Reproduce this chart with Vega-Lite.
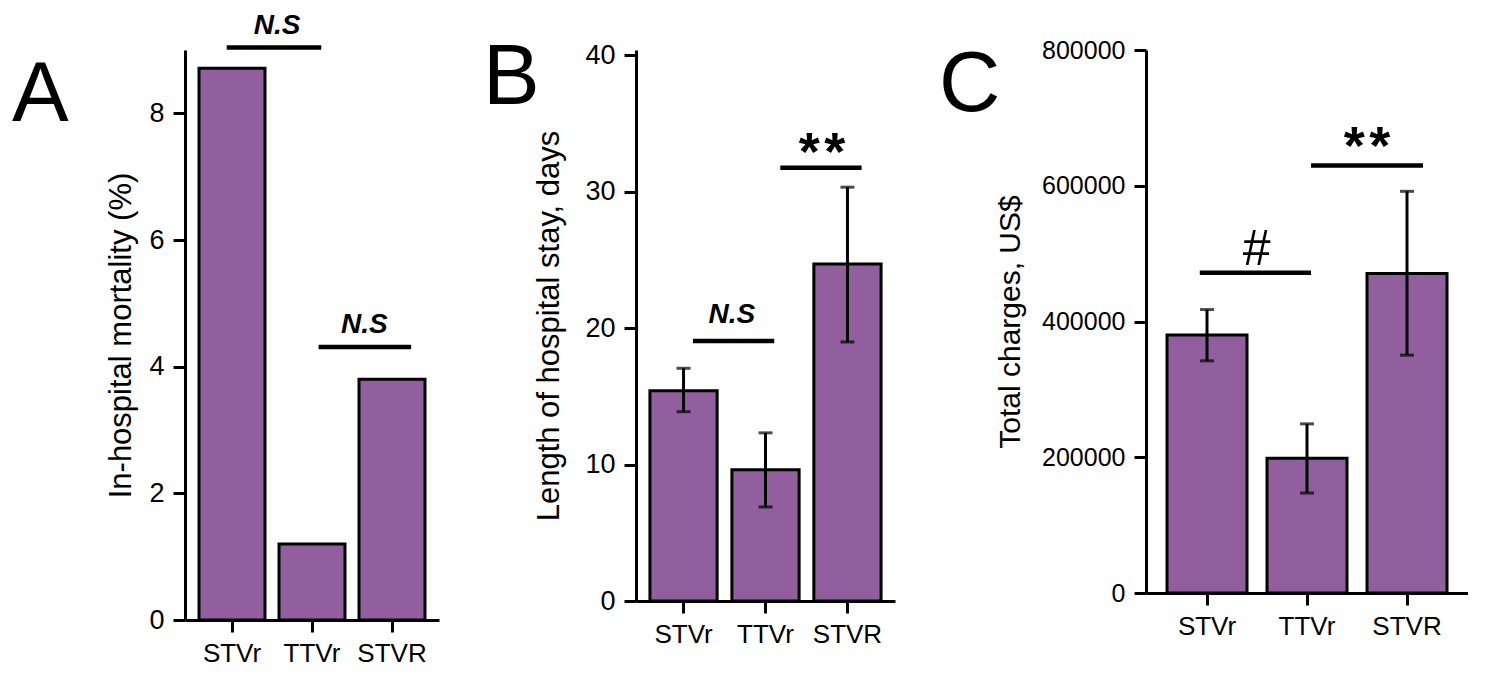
{
  "$schema": "https://vega.github.io/schema/vega-lite/v6.json",
  "background": "white",
  "padding": {"left": 12, "top": 12, "right": 0, "bottom": 0},
  "spacing": 44,
  "bounds": "full",
  "config": {
    "font": "Liberation Sans",
    "view": {"stroke": null},
    "axis": {
      "domainColor": "black", "domainWidth": 3,
      "tickColor": "black", "tickWidth": 3, "tickSize": 12,
      "labelColor": "black", "labelFontSize": 27, "labelPadding": 9,
      "titleColor": "black", "titleFontSize": 31, "titleFontWeight": "normal", "titlePadding": 11,
      "grid": false
    },
    "axisX": {"labelFontSize": 26, "labelAngle": 0, "labelPadding": 8},
    "title": {"fontSize": 85, "fontWeight": "normal", "color": "black", "anchor": "start", "frame": "group", "orient": "top", "baseline": "alphabetic", "offset": 0}
  },
  "hconcat": [
    {
      "width": 254, "height": 570,
      "title": {"text": "A", "dx": -173, "dy": 131},
      "layer": [
        {
          "data": {"values": [
            {"group": "STVr", "value": 8.71},
            {"group": "TTVr", "value": 1.2},
            {"group": "STVR", "value": 3.8}
          ]},
          "mark": {"type": "bar", "fill": "#915f9e", "stroke": "black", "strokeWidth": 3},
          "encoding": {
            "x": {"field": "group", "type": "nominal", "title": null, "scale": {"domain": ["STVr", "TTVr", "STVR"], "paddingInner": 0.175, "paddingOuter": 0.175}},
            "y": {"field": "value", "type": "quantitative", "title": "In-hospital mortality (%)", "scale": {"domain": [0, 9], "nice": false}, "axis": {"title": "In-hospital mortality (%)", "values": [0, 2, 4, 6, 8], "format": "d"}}
          }
        },
        {
          "data": {"values": [{"from": "STVr", "to": "TTVr", "level": 9.04, "label": "N.S"}]},
          "layer": [
            {"mark": {"type": "rule", "color": "black", "strokeWidth": 4.5},
             "encoding": {"x": {"field": "from", "type": "nominal", "title": null, "bandPosition": 0.42}, "x2": {"field": "to", "bandPosition": 0.64}, "y": {"field": "level", "type": "quantitative", "title": "In-hospital mortality (%)"}}},
            {"mark": {"type": "text", "fontSize": 28, "fontWeight": "bold", "fontStyle": "italic", "baseline": "alphabetic", "align": "center", "dy": -13, "color": "black"},
             "encoding": {"x": {"field": "to", "type": "nominal", "title": null, "bandPosition": -0.03}, "y": {"field": "level", "type": "quantitative", "title": "In-hospital mortality (%)"}, "text": {"field": "label"}}}
          ]
        },
        {
          "data": {"values": [{"from": "TTVr", "to": "STVR", "level": 4.31, "label": "N.S"}]},
          "layer": [
            {"mark": {"type": "rule", "color": "black", "strokeWidth": 4.5},
             "encoding": {"x": {"field": "from", "type": "nominal", "title": null, "bandPosition": 0.6}, "x2": {"field": "to", "bandPosition": 0.79}, "y": {"field": "level", "type": "quantitative", "title": "In-hospital mortality (%)"}}},
            {"mark": {"type": "text", "fontSize": 28, "fontWeight": "bold", "fontStyle": "italic", "baseline": "alphabetic", "align": "center", "dy": -14, "color": "black"},
             "encoding": {"x": {"field": "to", "type": "nominal", "title": null, "bandPosition": 0.08}, "y": {"field": "level", "type": "quantitative", "title": "In-hospital mortality (%)"}, "text": {"field": "label"}}}
          ]
        }
      ]
    },
    {
      "width": 259, "height": 551,
      "title": {"text": "B", "dx": -153, "dy": 85},
      "layer": [
        {
          "data": {"values": [
            {"group": "STVr", "value": 15.4, "lo": 13.87, "hi": 17.05},
            {"group": "TTVr", "value": 9.62, "lo": 6.89, "hi": 12.32},
            {"group": "STVR", "value": 24.7, "lo": 18.98, "hi": 30.32}
          ]},
          "layer": [
            {
              "mark": {"type": "bar", "fill": "#915f9e", "stroke": "black", "strokeWidth": 3},
              "encoding": {
                "x": {"field": "group", "type": "nominal", "title": null, "scale": {"domain": ["STVr", "TTVr", "STVR"], "paddingInner": 0.18, "paddingOuter": 0.17}},
                "y": {"field": "value", "type": "quantitative", "title": "Length of hospital stay, days", "scale": {"domain": [0, 40.37], "nice": false}, "axis": {"title": "Length of hospital stay, days", "values": [0, 10, 20, 30, 40], "titlePadding": 19}}
              }
            },
            {
              "mark": {"type": "rule", "color": "black", "strokeWidth": 3},
              "encoding": {"x": {"field": "group", "type": "nominal", "title": null}, "y": {"field": "lo", "type": "quantitative", "title": "Length of hospital stay, days"}, "y2": {"field": "hi"}}
            },
            {
              "mark": {"type": "tick", "color": "black", "thickness": 3, "size": 14},
              "encoding": {"x": {"field": "group", "type": "nominal", "title": null}, "y": {"field": "lo", "type": "quantitative", "title": "Length of hospital stay, days"}}
            },
            {
              "mark": {"type": "tick", "color": "black", "thickness": 3, "size": 14},
              "encoding": {"x": {"field": "group", "type": "nominal", "title": null}, "y": {"field": "hi", "type": "quantitative", "title": "Length of hospital stay, days"}}
            }
          ]
        },
        {
          "data": {"values": [{"from": "STVr", "to": "TTVr", "level": 19.05, "label": "N.S"}]},
          "layer": [
            {"mark": {"type": "rule", "color": "black", "strokeWidth": 4.5},
             "encoding": {"x": {"field": "from", "type": "nominal", "title": null, "bandPosition": 0.64}, "x2": {"field": "to", "bandPosition": 0.63}, "y": {"field": "level", "type": "quantitative", "title": "Length of hospital stay, days"}}},
            {"mark": {"type": "text", "fontSize": 28, "fontWeight": "bold", "fontStyle": "italic", "baseline": "alphabetic", "align": "center", "dy": -18, "color": "black"},
             "encoding": {"x": {"field": "to", "type": "nominal", "title": null, "bandPosition": 0.0}, "y": {"field": "level", "type": "quantitative", "title": "Length of hospital stay, days"}, "text": {"field": "label"}}}
          ]
        },
        {
          "data": {"values": [{"from": "TTVr", "to": "STVR", "level": 31.75, "label": "*\u200a*"}]},
          "layer": [
            {"mark": {"type": "rule", "color": "black", "strokeWidth": 4.5},
             "encoding": {"x": {"field": "from", "type": "nominal", "title": null, "bandPosition": 0.72}, "x2": {"field": "to", "bandPosition": 0.71}, "y": {"field": "level", "type": "quantitative", "title": "Length of hospital stay, days"}}},
            {"mark": {"type": "text", "fontSize": 54, "fontWeight": "bold", "baseline": "alphabetic", "align": "center", "dy": 2, "color": "black"},
             "encoding": {"x": {"field": "to", "type": "nominal", "title": null, "bandPosition": 0.12}, "y": {"field": "level", "type": "quantitative", "title": "Length of hospital stay, days"}, "text": {"field": "label"}}}
          ]
        }
      ]
    },
    {
      "width": 322, "height": 543,
      "title": {"text": "C", "dx": -207, "dy": 95},
      "layer": [
        {
          "data": {"values": [
            {"group": "STVr", "value": 380000, "lo": 342000, "hi": 417600},
            {"group": "TTVr", "value": 198600, "lo": 147300, "hi": 249200},
            {"group": "STVR", "value": 470800, "lo": 350400, "hi": 591800}
          ]},
          "layer": [
            {
              "mark": {"type": "bar", "fill": "#915f9e", "stroke": "black", "strokeWidth": 3},
              "encoding": {
                "x": {"field": "group", "type": "nominal", "title": null, "scale": {"domain": ["STVr", "TTVr", "STVR"], "paddingInner": 0.2, "paddingOuter": 0.21}},
                "y": {"field": "value", "type": "quantitative", "title": "Total charges, US$", "scale": {"domain": [0, 800000], "nice": false}, "axis": {"title": "Total charges, US$", "values": [0, 200000, 400000, 600000, 800000], "format": "d", "labelFontSize": 25, "titleFontSize": 30, "titlePadding": 16}}
              }
            },
            {
              "mark": {"type": "rule", "color": "black", "strokeWidth": 3},
              "encoding": {"x": {"field": "group", "type": "nominal", "title": null}, "y": {"field": "lo", "type": "quantitative", "title": "Total charges, US$"}, "y2": {"field": "hi"}}
            },
            {
              "mark": {"type": "tick", "color": "black", "thickness": 3, "size": 14},
              "encoding": {"x": {"field": "group", "type": "nominal", "title": null}, "y": {"field": "lo", "type": "quantitative", "title": "Total charges, US$"}}
            },
            {
              "mark": {"type": "tick", "color": "black", "thickness": 3, "size": 14},
              "encoding": {"x": {"field": "group", "type": "nominal", "title": null}, "y": {"field": "hi", "type": "quantitative", "title": "Total charges, US$"}}
            }
          ]
        },
        {
          "data": {"values": [{"from": "STVr", "to": "TTVr", "level": 472000, "label": "#"}]},
          "layer": [
            {"mark": {"type": "rule", "color": "black", "strokeWidth": 4.5},
             "encoding": {"x": {"field": "from", "type": "nominal", "title": null, "bandPosition": 0.41}, "x2": {"field": "to", "bandPosition": 0.55}, "y": {"field": "level", "type": "quantitative", "title": "Total charges, US$"}}},
            {"mark": {"type": "text", "fontSize": 50, "fontWeight": "normal", "baseline": "alphabetic", "align": "center", "dy": -8, "color": "black"},
             "encoding": {"x": {"field": "to", "type": "nominal", "title": null, "bandPosition": -0.13}, "y": {"field": "level", "type": "quantitative", "title": "Total charges, US$"}, "text": {"field": "label"}}}
          ]
        },
        {
          "data": {"values": [{"from": "TTVr", "to": "STVR", "level": 630000, "label": "*\u200a*"}]},
          "layer": [
            {"mark": {"type": "rule", "color": "black", "strokeWidth": 4.5},
             "encoding": {"x": {"field": "from", "type": "nominal", "title": null, "bandPosition": 0.55}, "x2": {"field": "to", "bandPosition": 0.7}, "y": {"field": "level", "type": "quantitative", "title": "Total charges, US$"}}},
            {"mark": {"type": "text", "fontSize": 54, "fontWeight": "bold", "baseline": "alphabetic", "align": "center", "dy": -1, "color": "black"},
             "encoding": {"x": {"field": "to", "type": "nominal", "title": null, "bandPosition": 0.0}, "y": {"field": "level", "type": "quantitative", "title": "Total charges, US$"}, "text": {"field": "label"}}}
          ]
        }
      ]
    }
  ]
}
